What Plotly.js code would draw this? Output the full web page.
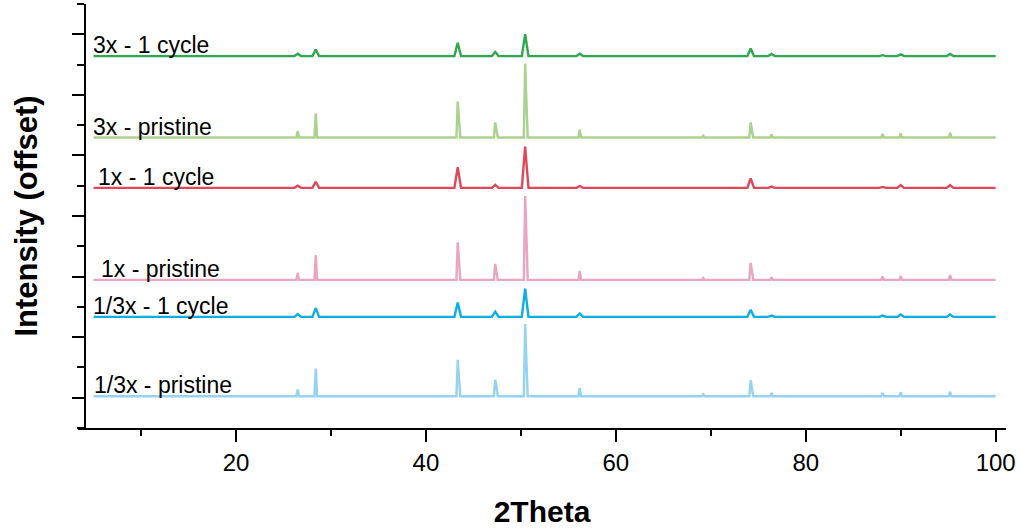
<!DOCTYPE html>
<html>
<head>
<meta charset="utf-8">
<script src="https://cdn.plot.ly/plotly-3.0.1.min.js"></script>
<style>html,body{margin:0;padding:0;background:#fff}</style>
</head>
<body>
<div id="chart" style="width:1020px;height:531px"></div>
<script>
// 2θ positions (degrees) of the reflections shared by all six patterns
const peakAngles = [26.5, 28.4, 43.35, 47.3, 50.45, 56.2, 69.2, 74.2, 76.4, 88.1, 90.0, 95.2];

const sampleNames = ['3x - 1 cycle', '3x - pristine', '1x - 1 cycle', '1x - pristine', '1/3x - 1 cycle', '1/3x - pristine'];

// Baseline of each pattern after vertical offsetting
const baselineOffsets = [12.28, 9.59, 7.93, 4.89, 3.67, 1.05];

// Peak intensities above each baseline (same order as peakAngles)
const int3x1cycle     = [0.08, 0.22, 0.44, 0.14, 0.72, 0.08, 0.02, 0.25, 0.07, 0.03, 0.06, 0.07];
const int3xPristine   = [0.22, 0.80, 1.19, 0.50, 2.44, 0.26, 0.06, 0.50, 0.10, 0.12, 0.14, 0.16];
const int1x1cycle     = [0.07, 0.20, 0.68, 0.10, 1.36, 0.06, 0.02, 0.31, 0.04, 0.03, 0.09, 0.09];
const int1xPristine   = [0.23, 0.82, 1.24, 0.53, 2.77, 0.30, 0.06, 0.56, 0.09, 0.11, 0.12, 0.16];
const int13x1cycle    = [0.09, 0.29, 0.47, 0.17, 0.93, 0.11, 0.00, 0.23, 0.04, 0.04, 0.08, 0.08];
const int13xPristine  = [0.22, 0.91, 1.20, 0.54, 2.38, 0.27, 0.06, 0.53, 0.11, 0.11, 0.13, 0.14];

// K-alpha2 shoulder intensities resolved in the sharp pristine patterns
const sh3xPristine    = [0, 0, 0.58, 0.26, 1.24, 0, 0, 0.25, 0, 0, 0, 0];
const sh1xPristine    = [0, 0, 0.63, 0.26, 1.55, 0, 0, 0.31, 0, 0, 0, 0];
const sh13xPristine   = [0, 0, 0.59, 0.33, 1.21, 0, 0, 0.27, 0, 0, 0, 0];

const scanStart = 5, scanEnd = 100;

const seriesColors = ['#2fa84f', '#aad28f', '#e04759', '#eaa6c1', '#0caee3', '#94d4f0'];
const seriesIntensities = [int3x1cycle, int3xPristine, int1x1cycle, int1xPristine, int13x1cycle, int13xPristine];
const seriesShoulders = [null, sh3xPristine, null, sh1xPristine, null, sh13xPristine];

// Build a polyline through the baseline, each peak apex and its shoulder
function pattern(offset, heights, shoulders, halfWidth) {
  const x = [scanStart], y = [offset];
  peakAngles.forEach((p, i) => {
    const h = heights[i];
    if (!(h > 0)) return;
    const s = shoulders ? shoulders[i] : 0;
    x.push(p - halfWidth, p);
    y.push(offset, offset + h);
    if (s > 0) { x.push(p + 0.13); y.push(offset + s); }
    x.push(p + halfWidth + (s > 0 ? 0.13 : 0));
    y.push(offset);
  });
  x.push(scanEnd); y.push(offset);
  return { x, y };
}

const traces = sampleNames.map((name, k) => {
  const pristine = seriesShoulders[k] !== null;
  const d = pattern(baselineOffsets[k], seriesIntensities[k], seriesShoulders[k], pristine ? 0.14 : 0.35);
  return {
    type: 'scatter', mode: 'lines', name: name,
    x: d.x, y: d.y,
    line: { color: seriesColors[k], width: 2.4 },
    hoverinfo: 'skip'
  };
});

const FONT = 'Arial, "Liberation Sans", sans-serif';

// Pattern labels sit just above the left end of each baseline
const labelPos = [
  { x: 4.72, y: 12.64 },
  { x: 4.72, y: 9.94 },
  { x: 5.25, y: 8.29 },
  { x: 5.6,  y: 5.25 },
  { x: 4.72, y: 4.03 },
  { x: 4.82, y: 1.42 }
];
const annotations = sampleNames.map((name, k) => ({
  x: labelPos[k].x, y: labelPos[k].y, xref: 'x', yref: 'y',
  text: name, showarrow: false, xanchor: 'left', yanchor: 'middle',
  font: { family: FONT, size: 23, color: '#000' }
}));

const layout = {
  width: 1020, height: 531,
  margin: { l: 78, r: 14, t: 4, b: 103 },
  paper_bgcolor: '#fff', plot_bgcolor: '#fff',
  showlegend: false,
  font: { family: FONT, color: '#000' },
  xaxis: {
    range: [3.36, 101.09],
    tick0: 0, dtick: 20,
    ticks: 'outside', ticklen: 12, tickwidth: 2, tickcolor: '#000',
    minor: { dtick: 10, tick0: 0, ticks: 'outside', ticklen: 6, tickwidth: 2, tickcolor: '#000' },
    showline: true, linewidth: 2, linecolor: '#000',
    showgrid: false, zeroline: false,
    tickfont: { family: FONT, size: 24, color: '#000' },
    title: { text: '<b>2Theta</b>', font: { family: FONT, size: 30, color: '#000' }, standoff: 26 }
  },
  yaxis: {
    range: [0, 14],
    anchor: 'free', position: 0.00754,
    tick0: 1, dtick: 2,
    ticks: 'outside', ticklen: 12, tickwidth: 2, tickcolor: '#000',
    minor: { dtick: 1, tick0: 0, ticks: 'outside', ticklen: 7, tickwidth: 2, tickcolor: '#000' },
    showticklabels: false,
    showline: true, linewidth: 2, linecolor: '#000',
    showgrid: false, zeroline: false,
    title: { text: '<b>Intensity (offset)</b>', font: { family: FONT, size: 31, color: '#000' }, standoff: 24 }
  },
  annotations: annotations
};

Plotly.newPlot('chart', traces, layout, { displayModeBar: false, staticPlot: true });
</script>
</body>
</html>
